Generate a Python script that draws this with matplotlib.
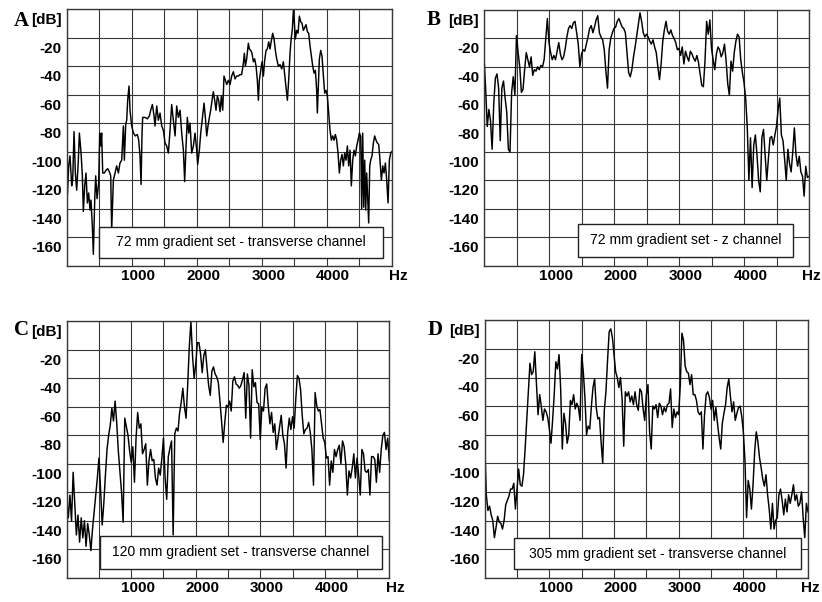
import numpy as np
import matplotlib
matplotlib.use("Agg")
import matplotlib.pyplot as plt
from matplotlib.patches import Rectangle
from matplotlib.ticker import MultipleLocator
from matplotlib.transforms import ScaledTranslation

# ---- data (Hz, dB) ----
freq_a = [0, 10, 31, 51, 77, 92, 113, 133, 154, 179,
          195, 221, 241, 256, 277, 297, 318, 338, 359, 374,
          395, 410, 431, 446, 467, 492, 508, 523, 538, 554,
          579, 605, 631, 656, 677, 692, 718, 744, 769, 795,
          820, 846, 872, 887, 908, 923, 938, 959, 974, 1000,
          1026, 1056, 1087, 1108, 1128, 1144, 1159, 1169, 1205, 1241,
          1272, 1292, 1318, 1344, 1359, 1385, 1410, 1436, 1462, 1487,
          1513, 1538, 1564, 1590, 1615, 1641, 1667, 1692, 1718, 1744,
          1769, 1795, 1815, 1836, 1856, 1877, 1897, 1923, 1949, 1974,
          2000, 2015, 2041, 2062, 2092, 2113, 2133, 2154, 2174, 2195,
          2215, 2236, 2256, 2277, 2297, 2318, 2338, 2359, 2379, 2400,
          2420, 2441, 2462, 2487, 2513, 2538, 2564, 2590, 2615, 2641,
          2667, 2692, 2718, 2733, 2749, 2769, 2795, 2810, 2831, 2851,
          2872, 2892, 2913, 2933, 2949, 2964, 2985, 3005, 3026, 3046,
          3067, 3087, 3108, 3128, 3149, 3169, 3190, 3210, 3231, 3256,
          3282, 3308, 3333, 3354, 3374, 3395, 3415, 3436, 3451, 3472,
          3487, 3503, 3518, 3538, 3559, 3579, 3600, 3620, 3641, 3661,
          3682, 3703, 3723, 3744, 3764, 3785, 3805, 3826, 3846, 3856,
          3872, 3887, 3908, 3928, 3949, 3969, 3990, 4010, 4031, 4051,
          4072, 4092, 4113, 4133, 4154, 4174, 4195, 4215, 4236, 4256,
          4277, 4297, 4318, 4338, 4359, 4379, 4400, 4420, 4441, 4462,
          4482, 4503, 4523, 4538, 4554, 4569, 4585, 4600, 4615, 4631,
          4646, 4662, 4677, 4697, 4718, 4738, 4759, 4779, 4800, 4820,
          4841, 4862, 4882, 4903, 4923, 4944, 4964, 4985, 5000]
db_a = [-101, -131, -110, -103, -124, -120, -86, -115, -127, -106,
        -87, -101, -117, -142, -124, -115, -136, -129, -141, -134,
        -153, -172, -134, -117, -133, -122, -87, -96, -87, -115,
        -115, -113, -112, -114, -117, -155, -120, -115, -110, -115,
        -108, -106, -82, -106, -81, -78, -64, -54, -71, -82,
        -87, -89, -88, -92, -103, -123, -87, -76, -76, -77,
        -75, -71, -67, -75, -82, -68, -78, -73, -82, -85,
        -94, -96, -101, -85, -67, -78, -89, -68, -76, -71,
        -87, -99, -121, -96, -76, -87, -80, -101, -96, -87,
        -99, -109, -99, -87, -75, -66, -76, -89, -82, -76,
        -71, -64, -58, -64, -71, -61, -64, -72, -61, -71,
        -47, -50, -53, -50, -53, -47, -44, -49, -47, -47,
        -46, -46, -38, -31, -40, -35, -24, -28, -29, -31,
        -37, -35, -40, -50, -64, -50, -43, -37, -47, -36,
        -29, -28, -23, -28, -22, -17, -21, -29, -35, -40,
        -39, -42, -37, -46, -54, -64, -50, -31, -22, -14,
        -1, -10, -21, -15, -17, -5, -9, -10, -15, -13,
        -11, -16, -17, -26, -33, -40, -45, -43, -57, -73,
        -54, -35, -29, -33, -47, -59, -57, -61, -73, -85,
        -92, -89, -92, -88, -92, -101, -115, -106, -102, -110,
        -101, -106, -96, -110, -99, -124, -106, -99, -103, -96,
        -92, -87, -89, -140, -87, -139, -106, -141, -115, -134,
        -150, -110, -106, -103, -94, -89, -92, -94, -95, -106,
        -120, -110, -115, -108, -120, -136, -106, -101, -100]

# panels B, C, D: one value every 25 Hz from 0 to 5000 Hz
freq_bins = np.arange(0, 5001, 25)
db_b = [-33, -55, -82, -70, -78, -98, -66, -48, -45, -55,
        -92, -55, -50, -62, -72, -98, -100, -58, -47, -60,
        -18, -30, -40, -58, -56, -42, -30, -35, -40, -33,
        -46, -42, -43, -40, -42, -39, -40, -35, -20, -6,
        -23, -30, -35, -32, -35, -29, -23, -31, -35, -33,
        -27, -19, -13, -11, -13, -9, -8, -16, -24, -40,
        -31, -28, -29, -24, -19, -13, -11, -16, -12, -7,
        -4, -16, -19, -21, -28, -43, -55, -28, -20, -16,
        -13, -12, -8, -6, -9, -12, -13, -16, -30, -44,
        -47, -42, -33, -26, -18, -10, -2, -8, -16, -19,
        -17, -19, -22, -24, -21, -26, -30, -40, -49, -38,
        -22, -14, -8, -15, -17, -14, -18, -20, -23, -28,
        -27, -32, -26, -38, -29, -33, -36, -29, -31, -34,
        -36, -32, -37, -45, -53, -54, -36, -8, -17, -7,
        -27, -35, -42, -31, -26, -28, -33, -30, -24, -36,
        -52, -60, -36, -43, -30, -22, -17, -19, -35, -44,
        -51, -62, -82, -120, -90, -125, -95, -88, -102, -120,
        -128, -90, -84, -102, -120, -105, -90, -89, -95, -88,
        -82, -70, -62, -88, -92, -105, -120, -98, -108, -114,
        -100, -83, -102, -110, -103, -114, -117, -131, -110, -118,
        -117]
db_c = [-125, -138, -122, -140, -106, -128, -150, -136, -155, -138,
        -152, -140, -158, -142, -150, -161, -146, -134, -122, -110,
        -96, -118, -143, -128, -108, -90, -80, -73, -61, -70,
        -56, -71, -91, -106, -120, -141, -68, -74, -80, -91,
        -99, -88, -113, -82, -64, -75, -72, -93, -90, -86,
        -115, -98, -90, -98, -97, -110, -115, -103, -108, -96,
        -82, -110, -125, -95, -89, -84, -150, -79, -75, -77,
        -64, -57, -47, -60, -68, -45, -18, 0, -24, -40,
        -30, -15, -15, -23, -36, -24, -20, -33, -45, -52,
        -35, -32, -37, -39, -43, -56, -70, -85, -71, -59,
        -60, -56, -63, -42, -39, -44, -45, -47, -45, -41,
        -36, -68, -37, -45, -82, -34, -46, -43, -57, -58,
        -83, -60, -63, -47, -44, -60, -72, -64, -78, -72,
        -90, -82, -74, -66, -80, -86, -103, -78, -68, -76,
        -67, -75, -55, -38, -40, -48, -66, -79, -76, -75,
        -71, -78, -90, -115, -50, -59, -63, -62, -72, -82,
        -85, -96, -95, -115, -98, -106, -90, -95, -90, -87,
        -100, -84, -88, -100, -122, -105, -110, -103, -93, -110,
        -96, -108, -122, -90, -93, -105, -106, -104, -122, -95,
        -95, -97, -113, -93, -106, -90, -80, -78, -90, -82,
        -98]
db_d = [-85, -122, -133, -130, -136, -140, -152, -145, -137, -141,
        -142, -146, -140, -129, -126, -123, -118, -118, -114, -132,
        -118, -104, -115, -116, -108, -90, -70, -50, -30, -38,
        -36, -22, -44, -66, -52, -60, -70, -62, -64, -68,
        -76, -86, -70, -52, -29, -34, -24, -48, -90, -65,
        -72, -86, -80, -56, -59, -52, -62, -58, -61, -70,
        -24, -36, -54, -80, -74, -76, -60, -47, -41, -61,
        -69, -68, -85, -100, -63, -50, -28, -8, -6, -12,
        -24, -36, -40, -47, -40, -55, -88, -50, -53, -50,
        -57, -53, -59, -50, -59, -63, -48, -50, -62, -70,
        -52, -45, -78, -90, -60, -62, -59, -68, -58, -60,
        -66, -61, -64, -59, -58, -48, -75, -62, -68, -64,
        -66, -45, -9, -14, -32, -36, -37, -45, -38, -52,
        -52, -56, -64, -66, -64, -90, -66, -52, -50, -54,
        -62, -56, -70, -61, -72, -82, -90, -72, -65, -59,
        -47, -41, -53, -64, -57, -70, -65, -61, -60, -67,
        -78, -98, -138, -112, -118, -132, -115, -92, -78, -85,
        -96, -103, -111, -116, -108, -122, -132, -146, -128, -146,
        -140, -138, -122, -118, -126, -136, -125, -134, -122, -128,
        -122, -115, -126, -122, -130, -128, -120, -138, -152, -128,
        -134]

x_ticks = [1000, 2000, 3000, 4000, 5000]
x_labels = ["1000", "2000", "3000", "4000", "Hz"]
y_ticks = [0, -20, -40, -60, -80, -100, -120, -140, -160]
y_labels = ["[dB]", "-20", "-40", "-60", "-80", "-100", "-120", "-140", "-160"]

letters = ["A", "B", "C", "D"]
captions = ["72 mm gradient set - transverse channel",
            "72 mm gradient set - z channel",
            "120 mm gradient set - transverse channel",
            "305 mm gradient set - transverse channel"]

W, H = 822, 602
fig = plt.figure(figsize=(W / 100, H / 100), dpi=100)

# axes frames in pixels: left, top, right, bottom
frames = [(66.7, 9, 391.7, 265.7), (484, 10, 809, 265.7),
          (66.7, 321.3, 389.3, 577.7), (484.7, 320.3, 808, 577.7)]
# caption boxes in axes fraction: x0, x1, y0, y1
boxes = [(0.10, 0.974, 0.029, 0.152), (0.289, 0.952, 0.035, 0.163),
         (0.103, 0.976, 0.035, 0.163), (0.09, 0.979, 0.033, 0.155)]
letter_pos = [(21.5, 21), (433.7, 20), (21.7, 330), (435, 330)]

series = [(freq_a, db_a), (freq_bins, db_b), (freq_bins, db_c), (freq_bins, db_d)]

grid_col = "#383838"
sans = "Liberation Sans"

for k in range(4):
    l, t, r, b = frames[k]
    ax = fig.add_axes([l / W, 1 - b / H, (r - l) / W, (b - t) / H])
    f, d = series[k]
    ax.plot(f, d, color="black", lw=1.05, zorder=2)
    ax.set_xlim(0, 5000)
    ax.set_ylim(-180, 0)

    ax.set_xticks(x_ticks)
    ax.set_xticklabels(x_labels, fontfamily=sans, fontweight="bold", fontsize=11)
    ax.set_yticks(y_ticks)
    ax.set_yticklabels(y_labels, fontfamily=sans, fontweight="bold", fontsize=11)
    ax.xaxis.set_minor_locator(MultipleLocator(500))
    ax.yaxis.set_minor_locator(MultipleLocator(20))
    ax.tick_params(which="both", length=0)
    ax.tick_params(axis="x", pad=2.5)
    ax.tick_params(axis="y", pad=3.5)
    ax.grid(which="both", color=grid_col, lw=0.8)
    ax.set_axisbelow(True)
    for s in ax.spines.values():
        s.set_color(grid_col)
        s.set_linewidth(1.0)

    # labels in the original sit a little right of / below their grid lines
    dx = ScaledTranslation(6.5 / 100, 0, fig.dpi_scale_trans)
    dy = ScaledTranslation(0, -9.5 / 100, fig.dpi_scale_trans)
    xlabs = ax.get_xticklabels()
    for lab in xlabs:
        lab.set_transform(lab.get_transform() + dx)
    if k % 2 == 1:
        # keep "Hz" inside the right edge of the picture
        xlabs[-1].set_horizontalalignment("right")
        xlabs[-1].set_transform(xlabs[-1].get_transform()
                                + ScaledTranslation(5.5 / 100, 0, fig.dpi_scale_trans))
    for lab in ax.get_yticklabels():
        lab.set_transform(lab.get_transform() + dy)

    x0, x1, y0, y1 = boxes[k]
    ax.add_patch(Rectangle((x0, y0), x1 - x0, y1 - y0, transform=ax.transAxes,
                           facecolor="white", edgecolor="#222222", lw=1.0, zorder=4))
    ax.text((x0 + x1) / 2, (y0 + y1) / 2, captions[k], transform=ax.transAxes,
            ha="center", va="center", fontfamily=sans, fontsize=10, zorder=5)

    lx, ly = letter_pos[k]
    fig.text(lx / W, 1 - ly / H, letters[k], ha="center", va="center",
             fontfamily="Liberation Serif", fontweight="bold", fontsize=15)

fig.savefig("out.png", dpi=100)
